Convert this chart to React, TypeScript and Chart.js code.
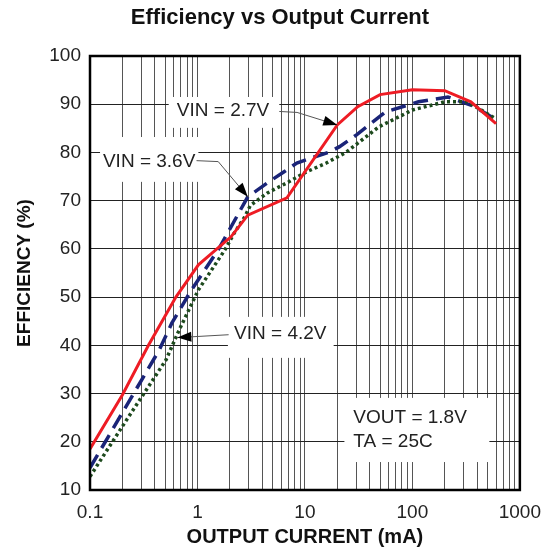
import React, { useEffect, useRef } from "react";
import { Chart, registerables } from "chart.js";

Chart.register(...registerables);

const TITLE = "Efficiency vs Output Current";
const X_TITLE = "OUTPUT CURRENT (mA)";
const Y_TITLE = "EFFICIENCY (%)";

// VIN = 2.7V (red, solid)
const VIN27_CURRENT = [0.1, 0.2, 0.35, 0.63, 1.02, 2.05, 2.94, 6.8, 20, 31, 50, 100, 200, 350, 600];
const VIN27_EFF = [18.5, 29.7, 40, 50, 56.7, 62.5, 67, 70.6, 85.7, 89.5, 92, 93, 92.8, 90.5, 86];

// VIN = 3.6V (blue, dashed)
const VIN36_CURRENT = [0.1, 0.44, 0.577, 0.88, 1.56, 2.94, 4.48, 6.4, 8.4, 12, 17, 21, 30, 56, 114, 214, 380, 600];
const VIN36_EFF = [14.6, 39, 44.6, 51.5, 59.8, 70.8, 73.7, 76, 77.8, 79, 80.1, 81.2, 83.6, 88.4, 90.5, 91.5, 89.5, 86.8];

// VIN = 4.2V (green, dotted)
const VIN42_CURRENT = [0.1, 0.22, 0.51, 0.67, 1.02, 1.8, 2.2, 2.75, 3.1, 4.48, 6.8, 10.4, 15.8, 24, 48.7, 100, 200, 325, 575];
const VIN42_EFF = [12.8, 24.6, 37, 43, 51.5, 59.8, 63.3, 66.6, 69, 71.6, 73.7, 76, 77.8, 80, 85.3, 88.8, 90.5, 90.5, 87.2];

const X_DECADES = [0.1, 1, 10, 100, 1000];
const X_MULTIPLES = [1, 2, 3, 4, 5, 6, 7, 8, 9];
const Y_TICKS = [10, 20, 30, 40, 50, 60, 70, 80, 90, 100];

const NOTE_TEXT_27 = "VIN = 2.7V";
const NOTE_TEXT_36 = "VIN = 3.6V";
const NOTE_TEXT_42 = "VIN = 4.2V";
const NOTE_COND = ["VOUT = 1.8V", "TA = 25C"];

const FONT = "'Liberation Sans', Arial, sans-serif";

const toPts = (xs: number[], ys: number[]) => xs.map((x, i) => ({ x, y: ys[i] }));

type Note = {
  lines: string[];
  box: [number, number, number, number]; // xMin, xMax, yMin, yMax (data units)
  at: [number, number][]; // text anchors (data units)
  align: CanvasTextAlign;
  leader?: [number, number][]; // last point = arrow tip
};

const NOTES: Note[] = [
  {
    lines: [NOTE_TEXT_27],
    box: [0.54, 5.77, 85.1, 91.5],
    at: [[1.73, 88.6]],
    align: "center",
    leader: [[5.77, 88.5], [8.45, 88.3], [20, 85.7]],
  },
  {
    lines: [NOTE_TEXT_36],
    box: [0.124, 1.02, 73.9, 83.2],
    at: [[0.355, 78]],
    align: "center",
    leader: [[0.98, 78.3], [1.56, 78.1], [2.94, 70.8]],
  },
  {
    lines: [NOTE_TEXT_42],
    box: [1.92, 18.5, 37.4, 45.9],
    at: [[5.9, 42.4]],
    align: "center",
    leader: [[1.95, 42.2], [0.65, 41.6]],
  },
  {
    lines: NOTE_COND,
    box: [23.3, 520, 15.8, 29.1],
    at: [[28.2, 24.9], [28.2, 20]],
    align: "left",
  },
];

const titlePlugin = {
  id: "centerTitle",
  afterDraw(chart: any) {
    const { ctx, width } = chart;
    ctx.save();
    ctx.fillStyle = "#111";
    ctx.font = `bold 22px ${FONT}`;
    ctx.textAlign = "center";
    ctx.textBaseline = "middle";
    ctx.fillText(TITLE, width / 2, 10);
    ctx.restore();
  },
};

const notesPlugin = {
  id: "notes",
  beforeDatasetsDraw(chart: any) {
    const { ctx } = chart;
    const xs = chart.scales.x;
    const ys = chart.scales.y;
    ctx.save();
    ctx.fillStyle = "#ffffff";
    NOTES.forEach((n) => {
      const x0 = xs.getPixelForValue(n.box[0]);
      const x1 = xs.getPixelForValue(n.box[1]);
      const y0 = ys.getPixelForValue(n.box[3]);
      const y1 = ys.getPixelForValue(n.box[2]);
      ctx.fillRect(x0, y0, x1 - x0, y1 - y0);
    });
    ctx.restore();
  },
  afterDatasetsDraw(chart: any) {
    const { ctx, chartArea } = chart;
    const xs = chart.scales.x;
    const ys = chart.scales.y;
    ctx.save();
    NOTES.forEach((n) => {
      if (!n.leader) return;
      const pts = n.leader.map(([x, y]) => [xs.getPixelForValue(x), ys.getPixelForValue(y)]);
      ctx.strokeStyle = "#555";
      ctx.lineWidth = 1;
      ctx.beginPath();
      pts.forEach(([px, py], i) => (i === 0 ? ctx.moveTo(px, py) : ctx.lineTo(px, py)));
      ctx.stroke();
      const [tx, ty] = pts[pts.length - 1];
      const [sx, sy] = pts[pts.length - 2];
      const ang = Math.atan2(ty - sy, tx - sx);
      const len = 14;
      const hw = 5;
      const bx = tx - len * Math.cos(ang);
      const by = ty - len * Math.sin(ang);
      ctx.fillStyle = "#000";
      ctx.beginPath();
      ctx.moveTo(tx, ty);
      ctx.lineTo(bx + hw * Math.sin(ang), by - hw * Math.cos(ang));
      ctx.lineTo(bx - hw * Math.sin(ang), by + hw * Math.cos(ang));
      ctx.closePath();
      ctx.fill();
    });
    ctx.fillStyle = "#222";
    ctx.font = `19px ${FONT}`;
    ctx.textBaseline = "middle";
    NOTES.forEach((n) => {
      ctx.textAlign = n.align;
      n.lines.forEach((t, i) => {
        ctx.fillText(t, xs.getPixelForValue(n.at[i][0]), ys.getPixelForValue(n.at[i][1]));
      });
    });
    ctx.strokeStyle = "#000";
    ctx.lineWidth = 2.5;
    ctx.strokeRect(chartArea.left, chartArea.top, chartArea.right - chartArea.left, chartArea.bottom - chartArea.top);
    ctx.restore();
  },
};

export default function App() {
  const canvasRef = useRef<HTMLCanvasElement | null>(null);

  useEffect(() => {
    if (!canvasRef.current) return;
    const chart = new Chart(canvasRef.current, {
      type: "line",
      data: {
        datasets: [
          {
            label: NOTE_TEXT_27,
            data: toPts(VIN27_CURRENT, VIN27_EFF),
            borderColor: "#ee1c24",
            borderWidth: 3,
            pointRadius: 0,
            tension: 0,
            order: 0,
          },
          {
            label: NOTE_TEXT_42,
            data: toPts(VIN42_CURRENT, VIN42_EFF),
            borderColor: "#1d4a1d",
            borderWidth: 3.5,
            borderDash: [3, 3],
            pointRadius: 0,
            tension: 0,
            order: 1,
          },
          {
            label: NOTE_TEXT_36,
            data: toPts(VIN36_CURRENT, VIN36_EFF),
            borderColor: "#1a2478",
            borderWidth: 3.5,
            borderDash: [15, 8],
            pointRadius: 0,
            tension: 0,
            order: 2,
          },
        ],
      },
      options: {
        animation: false,
        responsive: false,
        layout: { padding: { left: 0, right: 26, top: 48, bottom: 0 } },
        plugins: {
          legend: { display: false },
          tooltip: { enabled: false },
          title: { display: false },
        },
        scales: {
          x: {
            type: "logarithmic",
            min: 0.1,
            max: 1000,
            afterBuildTicks: (scale: any) => {
              const t: { value: number }[] = [];
              X_DECADES.slice(0, -1).forEach((d) => X_MULTIPLES.forEach((m) => t.push({ value: d * m })));
              t.push({ value: X_DECADES[X_DECADES.length - 1] });
              scale.ticks = t;
            },
            afterFit: (scale: any) => {
              scale.height = 58;
            },
            grid: { color: "#555", lineWidth: 1, drawTicks: false },
            border: { display: false },
            ticks: {
              autoSkip: false,
              maxRotation: 0,
              padding: 11,
              color: "#222",
              font: { family: FONT, size: 19 },
              callback: (v: any) => {
                const n = Number(v);
                const d = X_DECADES.find((x) => Math.abs(x - n) < 1e-9);
                return d !== undefined ? String(d) : "";
              },
            },
            title: {
              display: true,
              text: X_TITLE,
              color: "#111",
              font: { family: FONT, size: 20, weight: "bold", lineHeight: 1 },
              padding: { top: 0, bottom: 1 },
            },
          },
          y: {
            type: "linear",
            min: 10,
            max: 100,
            afterBuildTicks: (scale: any) => {
              scale.ticks = Y_TICKS.map((v) => ({ value: v }));
            },
            afterFit: (scale: any) => {
              scale.width = 82;
            },
            grid: { color: "#222", lineWidth: 1, drawTicks: false },
            border: { display: false },
            ticks: {
              padding: 9,
              color: "#222",
              font: { family: FONT, size: 19 },
            },
            title: {
              display: true,
              text: Y_TITLE,
              color: "#111",
              font: { family: FONT, size: 19, weight: "bold", lineHeight: 1 },
              padding: { top: 7, bottom: 0 },
            },
          },
        },
      },
      plugins: [notesPlugin, titlePlugin],
    } as any);
    return () => chart.destroy();
  }, []);

  return (
    <div style={{ width: 544, height: 540 }}>
      <canvas ref={canvasRef} width={544} height={540} style={{ display: "block" }} />
    </div>
  );
}
